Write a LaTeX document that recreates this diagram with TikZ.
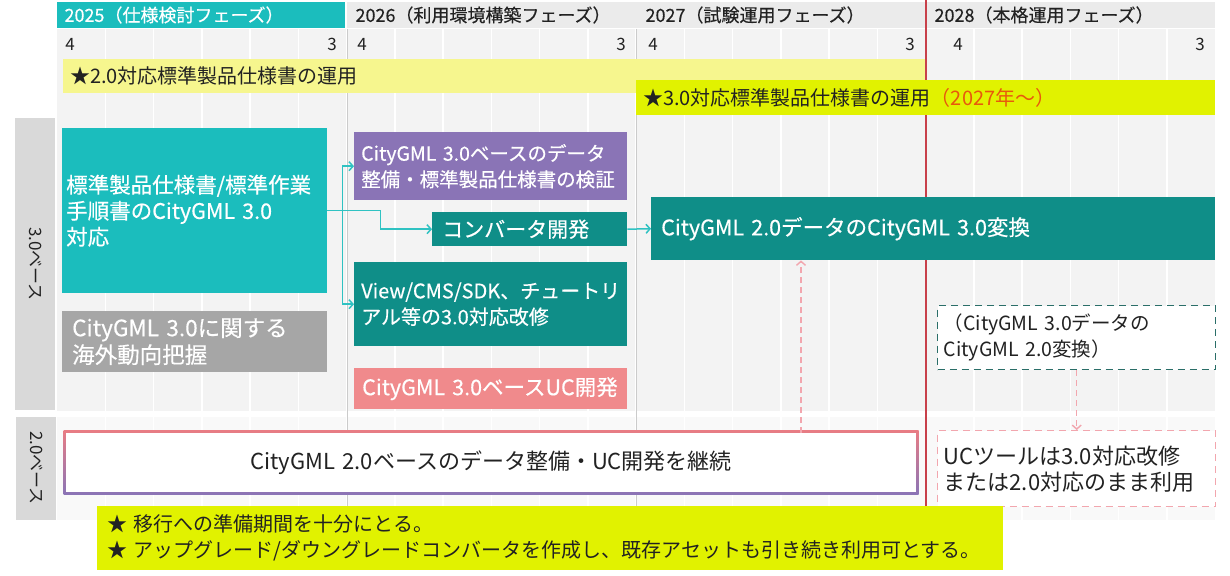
\documentclass[tikz,border=0pt]{standalone}
\usepackage{fontspec}
\setmainfont{Noto Sans CJK JP}
\newfontfamily\medium{Noto Sans CJK JP}[FakeBold=0.4]
\usepackage{tikz}
\usetikzlibrary{arrows.meta}

\definecolor{headteal}{HTML}{1BBDBD}
\definecolor{darkteal}{HTML}{0F8E88}
\definecolor{boxpurple}{HTML}{8A74B6}
\definecolor{boxgray}{HTML}{A6A6A6}
\definecolor{salmon}{HTML}{F08A8C}
\definecolor{paleyellow}{HTML}{F6F68E}
\definecolor{lime}{HTML}{E1F200}
\definecolor{yearorange}{HTML}{E8590C}
\definecolor{linkcyan}{HTML}{2FC2C2}
\definecolor{redline}{HTML}{C8404A}
\definecolor{dashteal}{HTML}{2A6E68}
\definecolor{dashpink}{HTML}{F2A6AE}
\definecolor{pinkline}{HTML}{E87C84}
\definecolor{purpline}{HTML}{8A74B6}
\definecolor{sidegray}{HTML}{D9D9D9}
\definecolor{headgray}{HTML}{EBEBEB}
\definecolor{bodygray}{HTML}{F3F3F3}
\definecolor{rowgray}{HTML}{F9F9F9}
\definecolor{sepgray}{HTML}{CBCBCB}
\definecolor{ink}{HTML}{222222}

\tikzset{
  task/.style={rectangle, anchor=north west, inner xsep=8pt, inner ysep=0pt, align=left, text=white, font=\medium\fontsize{21}{26}\selectfont},
  bar/.style={rectangle, anchor=north west, inner xsep=7pt, inner ysep=0pt, align=left, text=ink, font=\fontsize{20}{22}\selectfont},
  side/.style={fill=sidegray, minimum height=40pt, inner sep=0pt, rotate=-90, text=ink, font=\fontsize{17}{17}\selectfont},
  yearlab/.style={anchor=west, text=ink, font=\medium\fontsize{18}{18}\selectfont},
  monthlab/.style={text=ink, font=\fontsize{17}{17}\selectfont},
  link/.style={draw=linkcyan, line width=1.5pt, -{Straight Barb[length=4pt,width=9pt]}},
  dlink/.style={draw=dashpink, line width=1.4pt, dash pattern=on 6pt off 4pt, -{Straight Barb[length=4pt,width=9pt]}}
}

\begin{document}
\begin{tikzpicture}[x=1pt,y=-1pt]
	\useasboundingbox (0,0) rectangle (1230,575);
	\fill[white] (0,0) rectangle (1230,575);
	\fill[bodygray] (57,29) rectangle (1215,411);
	\fill[rowgray] (57,417) rectangle (1215,520);
	\foreach \i in {1,...,23}
		\draw[white, line width=1.5pt] ({57+48.25*\i},29) -- ({57+48.25*\i},520);
	\fill[headteal] (57,2) rectangle (345,28);
	\fill[headgray] (347,2) rectangle (1215,28);
	\foreach \x in {347,636}
		\draw[sepgray, line width=1pt] (\x,29) -- (\x,520);
	\draw[redline, line width=1.5pt] (926,0) -- (926,506);

	\node[yearlab, text=white] (y25) at (61,15) {2025（仕様検討フェーズ）};
	\node[yearlab] (y26) at (352,15) {2026（利用環境構築フェーズ）};
	\node[yearlab] (y27) at (642,15) {2027（試験運用フェーズ）};
	\node[yearlab] (y28) at (931,15) {2028（本格運用フェーズ）};
	\foreach \x/\m in {70/4, 332/3, 362/4, 621/3, 653/4, 910/3, 958/4, 1200/3}
		\node[monthlab] (m\x) at (\x,44) {\m};

	\node[bar, fill=paleyellow, text width=848pt, minimum height=34pt] (ops20) at (63,59) {★2.0対応標準製品仕様書の運用};
	\node[bar, fill=lime, text width=565pt, minimum height=35pt] (ops30) at (636,80) {★3.0対応標準製品仕様書の運用\textcolor{yearorange}{（2027年～）}};

	\node[side, minimum width=292pt] (base30) at (35,264) {3.0ベース};
	\node[side, minimum width=103pt] (base20) at (36,468) {2.0ベース};

	\node[task, fill=headteal, inner xsep=4pt, text width=257pt, minimum height=165pt, font=\medium\fontsize{21.5}{26}\selectfont] (spec) at (62,128) {標準製品仕様書/標準作業\\手順書のCityGML~3.0\\対応};
	\node[task, fill=boxgray, inner xsep=10pt, text width=245pt, minimum height=61pt, font=\medium\fontsize{22.5}{27}\selectfont] (trend) at (62,311) {CityGML~3.0に関する\\海外動向把握};
	\node[task, fill=boxpurple, inner xsep=7pt, text width=259pt, minimum height=68pt, font=\medium\fontsize{19.5}{26}\selectfont] (verif) at (354,132) {CityGML~3.0ベースのデータ\\整備・標準製品仕様書の検証};
	\node[task, fill=darkteal, inner xsep=10pt, text width=175pt, minimum height=34pt] (conv) at (432,212) {コンバータ開発};
	\node[task, fill=darkteal, inner xsep=7pt, text width=259pt, minimum height=84pt, font=\medium\fontsize{20}{26}\selectfont] (retro) at (354,262) {View/CMS/SDK、チュートリ\\アル等の3.0対応改修};
	\node[task, fill=salmon, text width=257pt, minimum height=41pt, font=\medium\fontsize{21.5}{26}\selectfont] (ucdev) at (354,368) {CityGML~3.0ベースUC開発};
	\node[task, fill=darkteal, inner xsep=10pt, text width=544pt, minimum height=63pt, font=\medium\fontsize{21.5}{26}\selectfont] (conv3) at (651,197) {CityGML~2.0データのCityGML~3.0変換};
	\node[task, text=ink, fill=white, draw=dashteal, line width=1.4pt, dash pattern=on 7pt off 5pt, inner xsep=6pt, text width=266pt, minimum height=64pt, font=\fontsize{19.5}{26}\selectfont] (down) at (937,305) {（CityGML~3.0データの\\CityGML~2.0変換）};
	\node[task, text=ink, fill=white, draw=dashpink, line width=1.4pt, dash pattern=on 7pt off 5pt, inner xsep=6pt, text width=266pt, minimum height=76pt, font=\fontsize{22}{26}\selectfont] (uc) at (937,430) {UCツールは3.0対応改修\\または2.0対応のまま利用};

	\shade[top color=pinkline, bottom color=purpline] (63.5,430.5) rectangle (918.5,494.5);
	\node[task, text=ink, fill=white, align=center, text width=834pt, minimum height=59pt, font=\fontsize{22}{26}\selectfont] (cont) at (66,433) {CityGML~2.0ベースのデータ整備・UC開発を継続};
	\node[task, fill=lime, text=ink, inner xsep=10pt, text width=886pt, minimum height=64pt, font=\fontsize{20}{26}\selectfont] (memo) at (97,506) {★ 移行への準備期間を十分にとる。\\★ アップグレード/ダウングレードコンバータを作成し、既存アセットも引き続き利用可とする。};

	\path (spec.east) ++(15,0) coordinate (split);
	\draw[link] (spec.east) -- ++(53,0) |- (conv.west);
	\draw[link] (split) |- (verif.west);
	\draw[link] (split) |- (retro.west);
	\draw[link] (conv.east) -- (conv3.west);
	\coordinate (feed) at (801,0);
	\draw[dlink] (cont.north -| feed) -- (conv3.south -| feed);
	\draw[dlink] (down.south) -- (uc.north);
\end{tikzpicture}
\end{document}
